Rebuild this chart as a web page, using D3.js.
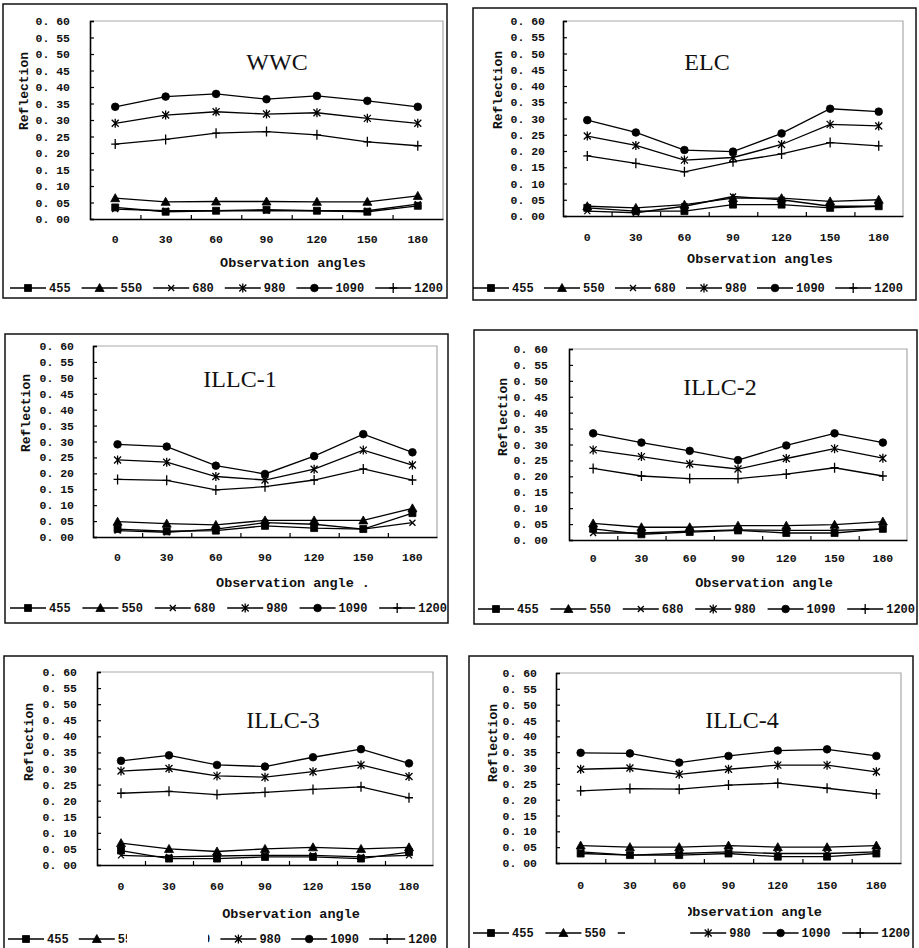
<!DOCTYPE html>
<html>
<head>
<meta charset="utf-8">
<script src="https://cdn.jsdelivr.net/npm/d3@7"></script>
<style>
  body { margin: 0; background: #fff; }
  text { fill: #111; }
</style>
</head>
<body>
<div id="chart"></div>
<script>
const angles = [0, 30, 60, 90, 120, 150, 180];
const wavelengths = ["455", "550", "680", "980", "1090", "1200"];
const yTicks = [0, 0.05, 0.10, 0.15, 0.20, 0.25, 0.30, 0.35, 0.40, 0.45, 0.50, 0.55, 0.60];

// one row per wavelength, same order as `wavelengths`
const wwc = [
  [0.035, 0.022, 0.025, 0.028, 0.025, 0.022, 0.040],
  [0.063, 0.052, 0.053, 0.053, 0.052, 0.052, 0.070],
  [0.030, 0.025, 0.025, 0.025, 0.025, 0.025, 0.045],
  [0.290, 0.315, 0.325, 0.318, 0.322, 0.305, 0.290],
  [0.340, 0.371, 0.379, 0.363, 0.373, 0.358, 0.340],
  [0.227, 0.241, 0.260, 0.265, 0.255, 0.234, 0.222]
];
const elc = [
  [0.025, 0.015, 0.015, 0.035, 0.035, 0.025, 0.030],
  [0.030, 0.025, 0.035, 0.055, 0.055, 0.045, 0.050],
  [0.015, 0.010, 0.030, 0.060, 0.050, 0.030, 0.030],
  [0.246, 0.217, 0.172, 0.180, 0.220, 0.282, 0.277],
  [0.295, 0.257, 0.203, 0.198, 0.254, 0.330, 0.321],
  [0.185, 0.162, 0.136, 0.167, 0.191, 0.226, 0.216]
];
const illc1 = [
  [0.025, 0.018, 0.020, 0.035, 0.028, 0.025, 0.075],
  [0.048, 0.042, 0.038, 0.052, 0.052, 0.052, 0.090],
  [0.020, 0.015, 0.025, 0.045, 0.040, 0.025, 0.045],
  [0.242, 0.235, 0.190, 0.179, 0.213, 0.273, 0.226],
  [0.291, 0.284, 0.224, 0.198, 0.254, 0.323, 0.266],
  [0.181, 0.178, 0.148, 0.158, 0.179, 0.214, 0.179]
];
const illc2 = [
  [0.035, 0.018, 0.025, 0.030, 0.022, 0.022, 0.035],
  [0.052, 0.040, 0.040, 0.045, 0.045, 0.048, 0.058],
  [0.022, 0.022, 0.028, 0.032, 0.030, 0.030, 0.035],
  [0.283, 0.262, 0.239, 0.223, 0.256, 0.287, 0.257],
  [0.335, 0.306, 0.280, 0.251, 0.297, 0.335, 0.306],
  [0.225, 0.201, 0.193, 0.193, 0.207, 0.227, 0.201]
];
const illc3 = [
  [0.045, 0.020, 0.020, 0.025, 0.025, 0.020, 0.040],
  [0.068, 0.050, 0.042, 0.050, 0.055, 0.050, 0.055],
  [0.030, 0.025, 0.028, 0.030, 0.030, 0.025, 0.030],
  [0.292, 0.300, 0.277, 0.273, 0.290, 0.311, 0.275],
  [0.324, 0.341, 0.311, 0.306, 0.335, 0.360, 0.316],
  [0.223, 0.229, 0.219, 0.226, 0.235, 0.243, 0.209]
];
const illc4 = [
  [0.030, 0.025, 0.025, 0.030, 0.020, 0.020, 0.030],
  [0.055, 0.050, 0.050, 0.055, 0.050, 0.050, 0.055],
  [0.035, 0.025, 0.030, 0.035, 0.030, 0.030, 0.035],
  [0.296, 0.300, 0.280, 0.296, 0.309, 0.309, 0.288],
  [0.348, 0.346, 0.317, 0.338, 0.355, 0.359, 0.338],
  [0.228, 0.235, 0.233, 0.246, 0.252, 0.236, 0.218]
];

const panels = [
  { name: "WWC", data: wwc, xName: "Observation angles",
    box: [3, 4, 447, 298], plot: [90, 21, 443, 219], title: [277, 70],
    yName: [23, 91], tickRight: 70, tickY: 239, xNamePos: [293, 262], legend: [10, 443, 288] },
  { name: "ELC", data: elc, xName: "Observation angles",
    box: [473, 8, 916, 300], plot: [563, 21, 903, 216], title: [707, 70],
    yName: [497, 90], tickRight: 545, tickY: 237, xNamePos: [760, 258], legend: [473, 903, 288] },
  { name: "ILLC-1", data: illc1, xName: "Observation angle .",
    box: [5, 334, 448, 623], plot: [93, 346, 437, 537], title: [240, 387],
    yName: [25, 413], tickRight: 74, tickY: 557, xNamePos: [293, 582], legend: [10, 447, 608] },
  { name: "ILLC-2", data: illc2, xName: "Observation angle",
    box: [474, 330, 917, 624], plot: [569, 349, 907, 540], title: [720, 395],
    yName: [502, 417], tickRight: 548, tickY: 558, xNamePos: [764, 582], legend: [478, 915, 609] },
  { name: "ILLC-3", data: illc3, xName: "Observation angle",
    box: [4, 656, 447, 960], plot: [97, 672, 433, 865], title: [283, 728],
    yName: [28, 742], tickRight: 77, tickY: 886, xNamePos: [291, 913], legend: [8, 437, 939],
    cover: [127, 925, 81, 30] },
  { name: "ILLC-4", data: illc4, xName: "Observation angle",
    box: [469, 656, 913, 960], plot: [556, 673, 901, 863], title: [742, 728],
    yName: [492, 743], tickRight: 537, tickY: 885, xNamePos: [753, 911], legend: [473, 910, 933],
    cover: [625, 897, 63, 60] }
];

const markers = {
  "455": { d: "M-3.5,-3.5h7v7h-7z", fill: true },
  "550": { d: "M0,-4.5L4.5,3.5L-4.5,3.5Z", fill: true },
  "680": { d: "M-3,-3L3,3M-3,3L3,-3", fill: false },
  "980": { d: "M-3.5,-3.5L3.5,3.5M-3.5,3.5L3.5,-3.5M0,-4.5V4.5", fill: false },
  "1090": { d: d3.symbol(d3.symbolCircle, 46)(), fill: true },
  "1200": { d: "M-4,0H4M0,-5V5", fill: false }
};

const mono = "'Liberation Mono', 'DejaVu Sans Mono', monospace";

const svg = d3.select("#chart").append("svg")
  .attr("width", 919).attr("height", 948);

function drawMarker(g, w, x, y) {
  const m = markers[w];
  g.append("path")
    .attr("d", m.d)
    .attr("transform", `translate(${x},${y})`)
    .attr("fill", m.fill ? "#000" : "none")
    .attr("stroke", "#000")
    .attr("stroke-width", m.fill ? 0.8 : 1.3);
}

panels.forEach(p => {
  const g = svg.append("g");
  const [bx0, by0, bx1, by1] = p.box;
  const [px0, py0, px1, py1] = p.plot;

  g.append("rect")
    .attr("x", bx0).attr("y", by0)
    .attr("width", bx1 - bx0).attr("height", by1 - by0)
    .attr("fill", "#fff").attr("stroke", "#111").attr("stroke-width", 1.5);

  const x = d3.scaleBand().domain(angles).range([px0, px1]);
  const y = d3.scaleLinear().domain([0, 0.6]).range([py1, py0]);

  // plot frame: grey top/right, black axes
  g.append("path")
    .attr("d", `M${px0},${py0}H${px1}V${py1}`)
    .attr("fill", "none").attr("stroke", "#aaa").attr("stroke-width", 1.2);

  const yAxis = g.append("g")
    .attr("transform", `translate(${px0},0)`)
    .call(d3.axisRight(y).tickValues(yTicks).tickSize(4).tickFormat(""));
  yAxis.select(".domain").attr("stroke", "#000").attr("stroke-width", 1.6);
  yAxis.selectAll(".tick line").attr("stroke-width", 1.2);

  g.selectAll(".ylab")
    .data(yTicks)
    .join("text")
    .attr("x", p.tickRight)
    .attr("y", d => y(d))
    .attr("dy", "0.35em")
    .attr("text-anchor", "end")
    .attr("font-family", mono)
    .attr("font-size", 11.5)
    .attr("font-weight", "bold")
    .text(d => d3.format(".2f")(d).replace(".", ". "));

  const bounds = angles.map(a => x(a)).slice(1);
  const xAxis = g.append("g")
    .attr("transform", `translate(0,${py1})`)
    .call(d3.axisTop(d3.scaleLinear().domain([px0, px1]).range([px0, px1]))
      .tickValues(bounds).tickSize(4).tickFormat("").tickSizeOuter(0));
  xAxis.select(".domain").attr("stroke", "#000").attr("stroke-width", 1.6);
  xAxis.selectAll(".tick line").attr("stroke-width", 1.2);

  g.selectAll(".xlab")
    .data(angles)
    .join("text")
    .attr("x", d => x(d) + x.bandwidth() / 2)
    .attr("y", p.tickY)
    .attr("dy", "0.35em")
    .attr("text-anchor", "middle")
    .attr("font-family", mono)
    .attr("font-size", 11.5)
    .attr("font-weight", "bold")
    .text(d => d);

  g.append("text")
    .attr("transform", `translate(${p.yName[0]},${p.yName[1]}) rotate(-90)`)
    .attr("dy", "0.35em")
    .attr("text-anchor", "middle")
    .attr("font-family", mono)
    .attr("font-size", 13)
    .attr("font-weight", "bold")
    .text("Reflection");

  g.append("text")
    .attr("x", p.xNamePos[0]).attr("y", p.xNamePos[1])
    .attr("dy", "0.35em")
    .attr("text-anchor", "middle")
    .attr("font-family", mono)
    .attr("font-size", 13.5)
    .attr("font-weight", "bold")
    .text(p.xName);

  g.append("text")
    .attr("x", p.title[0]).attr("y", p.title[1])
    .attr("text-anchor", "middle")
    .attr("font-family", "'Liberation Serif', 'Times New Roman', serif")
    .attr("font-size", 24)
    .text(p.name);

  const cx = d => x(d) + x.bandwidth() / 2;
  const line = d3.line().x((v, i) => cx(angles[i])).y(v => y(v));

  p.data.forEach((vals, k) => {
    g.append("path")
      .attr("d", line(vals))
      .attr("fill", "none")
      .attr("stroke", "#000")
      .attr("stroke-width", 1.3);
  });
  p.data.forEach((vals, k) => {
    vals.forEach((v, i) => drawMarker(g, wavelengths[k], cx(angles[i]), y(v)));
  });

  // legend
  const [lx0, lx1, ly] = p.legend;
  const L = 36;
  const items = wavelengths.map(w => {
    const t = g.append("text")
      .attr("y", ly).attr("dy", "0.35em")
      .attr("font-family", mono)
      .attr("font-size", 12)
      .attr("font-weight", "bold")
      .text(w);
    return { w, t, tw: t.node().getComputedTextLength() };
  });
  const total = d3.sum(items, it => L + 3 + it.tw);
  const gap = (lx1 - lx0 - total) / (items.length - 1);
  let cur = lx0;
  items.forEach(it => {
    g.append("line")
      .attr("x1", cur).attr("x2", cur + L)
      .attr("y1", ly).attr("y2", ly)
      .attr("stroke", "#000").attr("stroke-width", 1.3);
    drawMarker(g, it.w, cur + L / 2, ly);
    it.t.attr("x", cur + L + 3);
    cur += L + 3 + it.tw + gap;
  });

  if (p.cover) {
    g.append("rect")
      .attr("x", p.cover[0]).attr("y", p.cover[1])
      .attr("width", p.cover[2]).attr("height", p.cover[3])
      .attr("fill", "#fff");
  }
});
</script>
</body>
</html>
